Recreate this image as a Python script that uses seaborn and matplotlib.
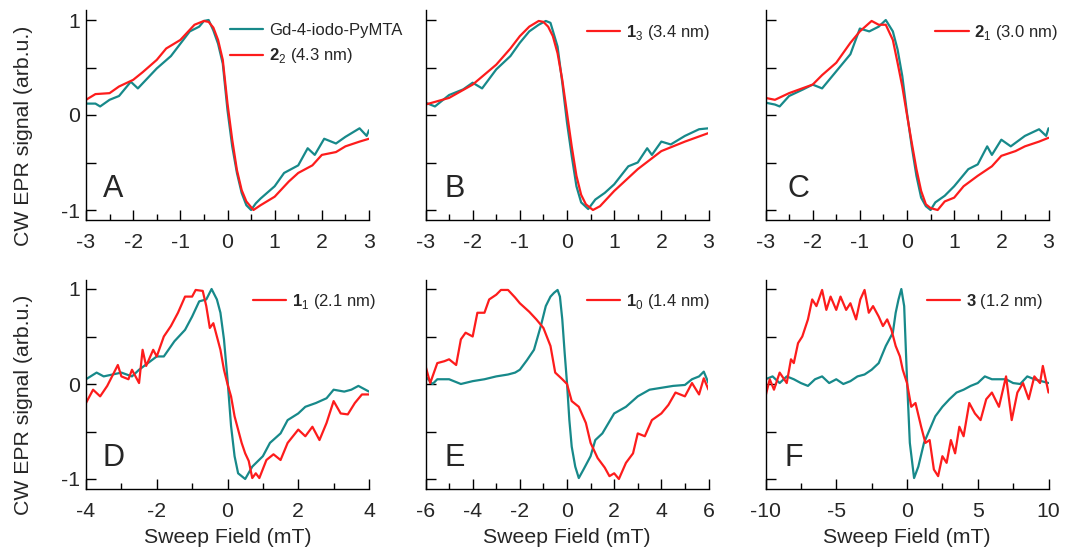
import matplotlib
matplotlib.use("Agg")
import matplotlib.pyplot as plt
from matplotlib.ticker import MultipleLocator, FixedLocator
import seaborn as sns
import pandas as pd

# ---------------- data ----------------
teal_A_x = [-3, -2.8, -2.7, -2.5, -2.3, -2.05, -1.9, -1.5, -1.2, -1.0, -0.8, -0.6, -0.5, -0.4, -0.3, -0.2, -0.1, 0.0,
            0.1, 0.2, 0.3, 0.4, 0.5, 0.6, 0.7, 1.0, 1.2, 1.5, 1.7, 1.85, 2.05, 2.3, 2.5, 2.8, 2.95, 3.0]
teal_A_y = [0.12, 0.12, 0.09, 0.16, 0.20, 0.35, 0.28, 0.49, 0.62, 0.75, 0.88, 0.93, 0.99, 1.00, 0.89, 0.75, 0.54, 0.05,
            -0.33, -0.61, -0.82, -0.95, -1.00, -0.93, -0.88, -0.75, -0.61, -0.53, -0.35, -0.42, -0.25, -0.30, -0.23,
            -0.14, -0.22, -0.16]
red_A_x = [-3, -2.8, -2.5, -2.3, -2.0, -1.8, -1.5, -1.3, -1.0, -0.7, -0.5, -0.4, -0.3, -0.2, -0.1, 0.0, 0.1, 0.2, 0.3,
           0.4, 0.55, 0.7, 1.0, 1.3, 1.5, 1.8, 2.0, 2.3, 2.5, 2.8, 3.0]
red_A_y = [0.16, 0.22, 0.23, 0.30, 0.37, 0.45, 0.58, 0.70, 0.79, 0.95, 0.99, 0.98, 0.92, 0.79, 0.58, 0.12, -0.26, -0.58,
           -0.79, -0.91, -1.00, -0.95, -0.86, -0.70, -0.61, -0.53, -0.42, -0.39, -0.33, -0.28, -0.25]

teal_B_x = [-3, -2.8, -2.5, -2.2, -2.0, -1.8, -1.5, -1.2, -1.0, -0.8, -0.6, -0.45, -0.35, -0.2, -0.1, 0.0, 0.1, 0.2,
            0.3, 0.45, 0.6, 0.8, 1.0, 1.3, 1.5, 1.7, 1.8, 2.0, 2.2, 2.5, 2.8, 3.0]
teal_B_y = [0.13, 0.09, 0.21, 0.27, 0.34, 0.28, 0.48, 0.62, 0.76, 0.88, 0.95, 0.99, 0.97, 0.72, 0.34, -0.08, -0.43,
            -0.75, -0.92, -0.99, -0.89, -0.82, -0.73, -0.54, -0.50, -0.35, -0.42, -0.28, -0.31, -0.22, -0.15, -0.14]
red_B_x = [-3, -2.5, -2.0, -1.5, -1.2, -1.0, -0.8, -0.6, -0.5, -0.4, -0.3, -0.2, -0.1, 0.0, 0.1, 0.2, 0.3, 0.4, 0.55,
           0.7, 1.0, 1.5, 2.0, 2.5, 3.0]
red_B_y = [0.11, 0.18, 0.32, 0.53, 0.70, 0.83, 0.93, 0.99, 0.98, 0.93, 0.83, 0.65, 0.37, 0.02, -0.33, -0.64, -0.84,
           -0.94, -1.00, -0.96, -0.80, -0.57, -0.38, -0.28, -0.19]

teal_C_x = [-3, -2.8, -2.7, -2.5, -2.2, -2.0, -1.8, -1.5, -1.2, -1.0, -0.8, -0.6, -0.45, -0.3, -0.2, -0.1, 0.0, 0.1,
            0.2, 0.3, 0.4, 0.5, 0.6, 0.8, 1.0, 1.3, 1.5, 1.7, 1.8, 2.0, 2.2, 2.5, 2.8, 2.95, 3.0]
teal_C_y = [0.13, 0.11, 0.09, 0.20, 0.27, 0.32, 0.28, 0.46, 0.64, 0.91, 0.88, 0.93, 1.00, 0.88, 0.69, 0.41, 0.02, -0.33,
            -0.64, -0.87, -0.96, -1.00, -0.92, -0.85, -0.75, -0.57, -0.52, -0.33, -0.42, -0.26, -0.33, -0.22, -0.15,
            -0.22, -0.14]
red_C_x = [-3, -2.8, -2.5, -2.0, -1.8, -1.5, -1.2, -1.0, -0.75, -0.6, -0.45, -0.3, -0.2, -0.1, 0.0, 0.1, 0.2, 0.3, 0.4,
           0.5, 0.65, 0.8, 1.0, 1.2, 1.5, 1.8, 2.0, 2.3, 2.5, 2.8, 3.0]
red_C_y = [0.18, 0.16, 0.23, 0.32, 0.42, 0.55, 0.76, 0.88, 0.99, 0.95, 0.95, 0.79, 0.55, 0.30, 0.00, -0.29, -0.57,
           -0.80, -0.94, -0.98, -1.00, -0.91, -0.87, -0.75, -0.64, -0.54, -0.43, -0.38, -0.33, -0.28, -0.24]

teal_D_x = [-4, -3.7, -3.5, -3.0, -2.7, -2.5, -2.0, -1.8, -1.5, -1.2, -1.0, -0.8, -0.6, -0.45, -0.3, -0.2, -0.1, 0.0,
            0.1, 0.2, 0.3, 0.5, 0.7, 1.0, 1.2, 1.5, 1.7, 2.0, 2.2, 2.5, 2.8, 3.0, 3.3, 3.5, 3.7, 4.0]
teal_D_y = [0.05, 0.12, 0.08, 0.12, 0.08, 0.15, 0.29, 0.29, 0.45, 0.57, 0.71, 0.87, 0.89, 1.00, 0.89, 0.75, 0.47, 0.05,
            -0.44, -0.76, -0.94, -1.00, -0.87, -0.76, -0.62, -0.52, -0.38, -0.31, -0.24, -0.20, -0.15, -0.06, -0.08,
            -0.06, -0.02, -0.08]
red_D_x = [-4, -3.8, -3.6, -3.4, -3.1, -3.0, -2.8, -2.7, -2.5, -2.4, -2.3, -2.1, -2.0, -1.8, -1.6, -1.4, -1.2, -1.0,
           -0.9, -0.7, -0.6, -0.5, -0.4, -0.3, -0.2, -0.1, 0.0, 0.1, 0.2, 0.4, 0.5, 0.6, 0.7, 0.8, 0.9, 1.1, 1.3, 1.5,
           1.7, 2.0, 2.2, 2.4, 2.6, 2.8, 3.0, 3.2, 3.4, 3.6, 3.8, 4.0]
red_D_y = [-0.20, -0.06, -0.13, -0.02, 0.20, 0.08, 0.05, 0.15, 0.01, 0.36, 0.19, 0.36, 0.29, 0.50, 0.61, 0.75, 0.92,
           0.92, 0.99, 0.98, 0.82, 0.59, 0.64, 0.50, 0.36, 0.15, 0.00, -0.13, -0.34, -0.62, -0.73, -0.81, -0.99, -0.94,
           -0.99, -0.80, -0.74, -0.80, -0.62, -0.48, -0.55, -0.45, -0.59, -0.41, -0.18, -0.31, -0.32, -0.20, -0.11,
           -0.11]

teal_E_x = [-6, -5.7, -5.5, -5.0, -4.5, -4.0, -3.5, -3.0, -2.5, -2.2, -2.0, -1.7, -1.4, -1.1, -0.9, -0.7, -0.55, -0.4,
            -0.3, -0.2, -0.1, 0.0, 0.1, 0.2, 0.35, 0.5, 0.7, 1.0, 1.2, 1.5, 2.0, 2.5, 3.0, 3.5, 4.0, 4.5, 5.0, 5.3, 5.6,
            5.8, 6.0]
teal_E_y = [0.08, 0.00, 0.05, 0.05, 0.00, 0.03, 0.05, 0.08, 0.10, 0.12, 0.15, 0.25, 0.36, 0.62, 0.82, 0.92, 0.96, 0.99,
            0.92, 0.68, 0.33, 0.01, -0.38, -0.66, -0.87, -0.99, -0.90, -0.76, -0.59, -0.52, -0.31, -0.24, -0.13, -0.06,
            -0.04, -0.02, -0.01, 0.05, 0.08, 0.13, 0.01]
red_E_x = [-6, -5.8, -5.5, -5.2, -5.0, -4.7, -4.5, -4.3, -4.0, -3.8, -3.5, -3.3, -3.0, -2.8, -2.5, -2.2, -2.0, -1.6,
           -1.3, -1.0, -0.7, -0.5, -0.2, 0.0, 0.2, 0.5, 0.8, 1.0, 1.3, 1.6, 1.8, 2.0, 2.2, 2.5, 2.8, 3.0, 3.3, 3.6, 4.0,
           4.3, 4.6, 5.0, 5.3, 5.6, 5.8, 6.0]
red_E_y = [0.19, 0.01, 0.22, 0.24, 0.26, 0.20, 0.47, 0.54, 0.50, 0.75, 0.75, 0.89, 0.94, 0.99, 0.99, 0.91, 0.85, 0.76,
           0.68, 0.59, 0.40, 0.12, 0.05, 0.00, -0.18, -0.24, -0.41, -0.62, -0.78, -0.88, -0.97, -0.94, -1.00, -0.83,
           -0.73, -0.52, -0.55, -0.38, -0.31, -0.22, -0.09, -0.13, 0.01, -0.11, 0.06, -0.06]

teal_F_x = [-10, -9.5, -9, -8.5, -8, -7.5, -7, -6.5, -6, -5.5, -5, -4.5, -4, -3.5, -3, -2.5, -2, -1.5, -1, -0.8, -0.6,
            -0.4, -0.2, 0, 0.2, 0.5, 0.8, 1.2, 1.6, 2, 2.5, 3, 3.5, 4, 4.5, 5, 5.5, 6, 6.5, 7, 7.5, 8, 8.5, 9, 9.5, 10]
teal_F_y = [0.05, 0.08, 0.01, 0.08, 0.05, 0.01, -0.02, 0.05, 0.08, 0.01, 0.05, 0.00, 0.03, 0.08, 0.10, 0.15, 0.22, 0.40,
            0.54, 0.75, 0.89, 1.00, 0.82, 0.05, -0.62, -0.99, -0.87, -0.62, -0.48, -0.34, -0.24, -0.16, -0.09, -0.06,
            -0.02, 0.01, 0.08, 0.05, 0.05, 0.05, 0.01, 0.00, 0.08, 0.05, 0.03, 0.01]
red_F_x = [-10, -9.7, -9.4, -9.0, -8.5, -8.2, -8.0, -7.7, -7.4, -7.0, -6.7, -6.4, -6.0, -5.7, -5.4, -5.0, -4.7, -4.3,
           -4.0, -3.6, -3.3, -3.0, -2.7, -2.4, -2.0, -1.7, -1.4, -1.1, -0.8, -0.5, -0.3, 0.0, 0.3, 0.6, 1.0, 1.3, 1.6,
           1.9, 2.2, 2.5, 2.8, 3.1, 3.4, 3.7, 4.0, 4.4, 4.8, 5.2, 5.6, 6.0, 6.5, 7.0, 7.4, 7.8, 8.2, 8.6, 9.0, 9.4,
           9.6, 10.0]
red_F_y = [-0.13, 0.05, -0.06, 0.12, 0.01, 0.26, 0.22, 0.43, 0.50, 0.68, 0.89, 0.82, 0.99, 0.78, 0.92, 0.78, 0.92,
           0.78, 0.85, 0.68, 0.89, 0.99, 0.75, 0.82, 0.71, 0.61, 0.68, 0.57, 0.40, 0.29, 0.15, 0.01, -0.24, -0.20,
           -0.45, -0.62, -0.59, -0.90, -0.97, -0.76, -0.83, -0.59, -0.73, -0.45, -0.55, -0.20, -0.31, -0.38, -0.16,
           -0.09, -0.24, 0.08, -0.38, -0.09, 0.01, -0.16, 0.08, 0.01, 0.19, -0.09]

panel_letters = ["A", "B", "C", "D", "E", "F"]
red_labels = [r"$\mathbf{2}_\mathrm{2}$ (4.3 nm)", r"$\mathbf{1}_\mathrm{3}$ (3.4 nm)",
              r"$\mathbf{2}_\mathrm{1}$ (3.0 nm)", r"$\mathbf{1}_\mathrm{1}$ (2.1 nm)",
              r"$\mathbf{1}_\mathrm{0}$ (1.4 nm)", r"$\mathbf{3}$ (1.2 nm)"]
teal_label = "Gd-4-iodo-PyMTA"
x_limits = [(-3, 3), (-3, 3), (-3, 3), (-4, 4), (-6, 6), (-10, 10)]
x_major = [[-3, -2, -1, 0, 1, 2, 3]] * 3 + [[-4, -2, 0, 2, 4], [-6, -4, -2, 0, 2, 4, 6], [-10, -5, 0, 5, 10]]
x_minor = [0.5, 0.5, 0.5, 1, 1, 2.5]
y_ticks = [-1, -0.5, 0, 0.5, 1]
y_ticklabels = ["-1", "", "0", "", "1"]

teal_data = [(teal_A_x, teal_A_y), (teal_B_x, teal_B_y), (teal_C_x, teal_C_y),
             (teal_D_x, teal_D_y), (teal_E_x, teal_E_y), (teal_F_x, teal_F_y)]
red_data = [(red_A_x, red_A_y), (red_B_x, red_B_y), (red_C_x, red_C_y),
            (red_D_x, red_D_y), (red_E_x, red_E_y), (red_F_x, red_F_y)]

# ---------------- style ----------------
sns.set_theme(style="ticks")
plt.rcParams["font.family"] = ["Liberation Sans", "DejaVu Sans"]
plt.rcParams["mathtext.fontset"] = "custom"
plt.rcParams["mathtext.rm"] = "Liberation Sans"
plt.rcParams["mathtext.bf"] = "Liberation Sans:bold"
plt.rcParams["axes.unicode_minus"] = False

TEAL = "#17898a"
RED = "#fd1c1c"

fig = plt.figure(figsize=(10.66, 5.5), dpi=100)
lefts = [86 / 1066, 425.5 / 1066, 765.5 / 1066]
bottoms = [(550 - 219.5) / 550, (550 - 488.5) / 550]
w, h = 283 / 1066, 209 / 550
legend_x = [0.509, 0.569, 0.60, 0.59, 0.569, 0.569]
letter_x = [0.06, 0.067, 0.078, 0.06, 0.067, 0.067]

for i in range(6):
    r, c = divmod(i, 3)
    ax = fig.add_axes([lefts[c], bottoms[r], w, h])
    tx, ty = teal_data[i]
    rx, ry = red_data[i]
    dft = pd.DataFrame({"x": tx, "y": ty})
    dfr = pd.DataFrame({"x": rx, "y": ry})
    sns.lineplot(data=dft, x="x", y="y", ax=ax, color=TEAL, lw=1.6,
                 label=teal_label if i == 0 else "_nolegend_", legend=False)
    sns.lineplot(data=dfr, x="x", y="y", ax=ax, color=RED, lw=1.6, label=red_labels[i], legend=False)

    ax.set_xlim(*x_limits[i])
    ax.set_ylim(-1.1, 1.1)
    ax.xaxis.set_major_locator(FixedLocator(x_major[i]))
    ax.xaxis.set_minor_locator(MultipleLocator(x_minor[i]))
    ax.set_xticklabels([str(v) for v in x_major[i]])
    ax.set_yticks(y_ticks)
    if c == 0:
        ax.set_yticklabels(y_ticklabels)
        ax.set_ylabel("CW EPR signal (arb.u.)", fontsize=15.3)
        ax.yaxis.set_label_coords(-0.188, 0.40)
    else:
        ax.set_yticklabels([""] * 5)
        ax.set_ylabel("")
    if r == 1:
        ax.set_xlabel("Sweep Field (mT)", fontsize=15.3, labelpad=5)
    else:
        ax.set_xlabel("")

    for s in ["top", "right"]:
        ax.spines[s].set_visible(False)
    for s in ["left", "bottom"]:
        ax.spines[s].set_linewidth(1.0)
        ax.spines[s].set_color("black")
    ax.tick_params(axis="both", which="major", direction="in", length=7, width=1,
                   labelsize=15.3, color="black")
    ax.tick_params(axis="x", which="major", pad=10)
    ax.tick_params(axis="y", which="major", pad=4)
    ax.tick_params(axis="x", which="minor", direction="in", length=4, width=1, color="black")

    ax.text(letter_x[i], 0.108, panel_letters[i], transform=ax.transAxes, fontsize=22,
            va="baseline", ha="left")

    handles, labels = ax.get_legend_handles_labels()
    ax.legend(handles, labels, loc="upper left", bbox_to_anchor=(legend_x[i], 0.94),
              frameon=False, fontsize=12, handlelength=2.0, handletextpad=0.35,
              borderpad=0, borderaxespad=0, labelspacing=0.5)

fig.savefig("out.png", dpi=100)
